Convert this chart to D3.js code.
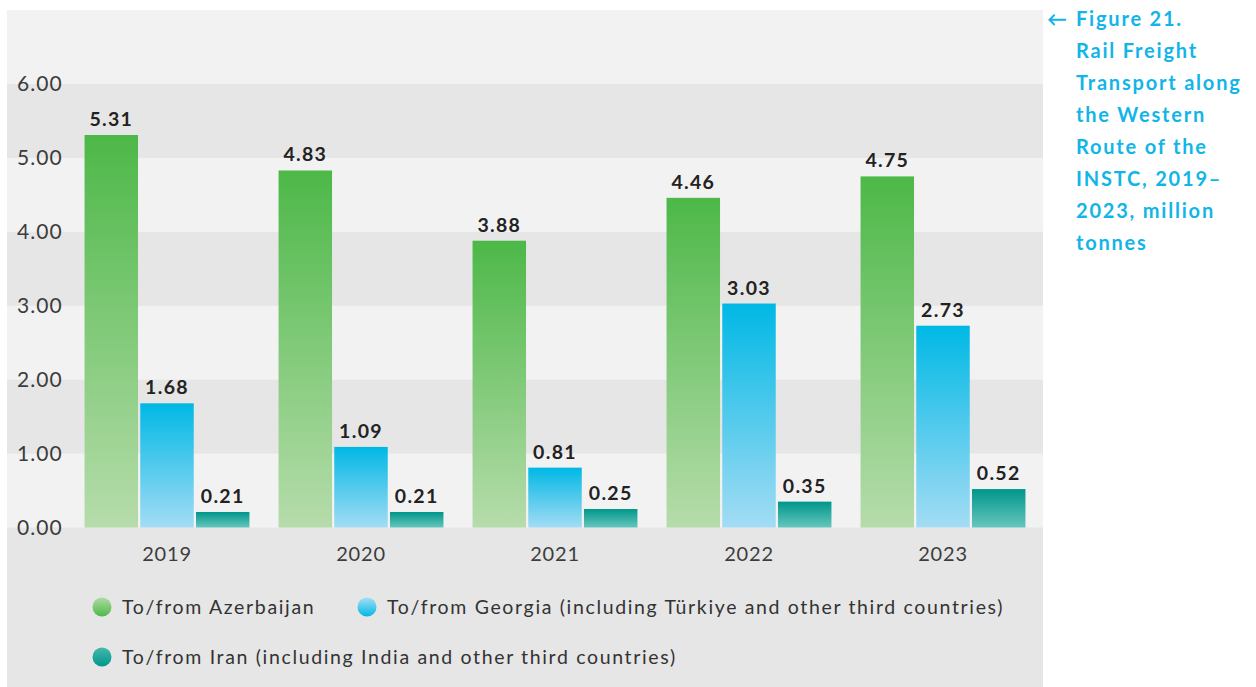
<!DOCTYPE html>
<html>
<head>
<meta charset="utf-8">
<script src="https://cdn.jsdelivr.net/npm/d3@7"></script>
<style>
  body { margin: 0; background: #fff; }
  svg text { font-family: Lato, "Open Sans", sans-serif; }
</style>
</head>
<body>
<svg id="chart" width="1256" height="687"></svg>
<script>
const years = ["2019", "2020", "2021", "2022", "2023"]
const azerbaijan = [5.31, 4.83, 3.88, 4.46, 4.75]
const georgia = [1.68, 1.09, 0.81, 3.03, 2.73]
const iran = [0.21, 0.21, 0.25, 0.35, 0.52]
const yTicks = [0, 1, 2, 3, 4, 5, 6]
const seriesNames = [
  "To/from Azerbaijan",
  "To/from Georgia (including Türkiye and other third countries)",
  "To/from Iran (including India and other third countries)"
]
const titleLines = ["Figure 21.", "Rail Freight", "Transport along", "the Western",
  "Route of the", "INSTC, 2019–", "2023, million", "tonnes"]

// colours for each series: [top, bottom] of the bar gradient
const barColors = [["#4db848", "#b6dcab"], ["#00b8e5", "#a3dcf4"], ["#00968a", "#66c6be"]]
const dotColors = [["#b0dba3", "#4db848"], ["#a6def6", "#00b8e5"], ["#45b8ae", "#00968a"]]

const svg = d3.select("#chart")
const panel = { left: 7, right: 1043, top: 10, bottom: 687 }

const y = d3.scaleLinear().domain([0, 6]).range([527.5, 84])
const x0 = d3.scaleBand().domain(years).range([70, 1040]).paddingInner(0.15).paddingOuter(0.075)
const x1 = d3.scaleBand().domain([0, 1, 2]).range([0, x0.bandwidth()]).paddingInner(0.04)

const defs = svg.append("defs")
function addGrad(id, c) {
  const g = defs.append("linearGradient").attr("id", id)
    .attr("x1", 0).attr("y1", 0).attr("x2", 0).attr("y2", 1)
  g.append("stop").attr("offset", "0%").attr("stop-color", c[0])
  g.append("stop").attr("offset", "100%").attr("stop-color", c[1])
}
barColors.forEach((c, i) => addGrad("bar" + i, c))
dotColors.forEach((c, i) => addGrad("dot" + i, c))

// panel + alternating bands
svg.append("rect").attr("x", panel.left).attr("y", panel.top)
  .attr("width", panel.right - panel.left).attr("height", panel.bottom - panel.top)
  .attr("fill", "#f2f2f2")
yTicks.slice(1).forEach(t => {
  if (t % 2 === 0) {
    svg.append("rect").attr("x", panel.left).attr("y", y(t))
      .attr("width", panel.right - panel.left).attr("height", y(t - 1) - y(t))
      .attr("fill", "#e6e6e6")
  }
})
svg.append("rect").attr("x", panel.left).attr("y", y(0))
  .attr("width", panel.right - panel.left).attr("height", panel.bottom - y(0))
  .attr("fill", "#e6e6e6")

// y axis
const yAxis = svg.append("g").attr("transform", "translate(17,0)")
  .call(d3.axisLeft(y).tickValues(yTicks).tickFormat(d3.format(".2f")).tickSize(0).tickPadding(0))
yAxis.select(".domain").remove()
yAxis.selectAll("text").attr("text-anchor", "start").attr("x", 0)
  .attr("font-size", 21).attr("fill", "#3c3c3c").attr("letter-spacing", "1.1px")
  .style("font-family", "Lato, sans-serif")

// bars
const series = [azerbaijan, georgia, iran]
const groups = svg.append("g").selectAll("g").data(years).join("g")
  .attr("transform", d => `translate(${x0(d)},0)`)

groups.each(function (yr, i) {
  const g = d3.select(this)
  series.forEach((s, k) => {
    const v = s[i]
    g.append("rect").attr("x", x1(k)).attr("y", y(v))
      .attr("width", x1.bandwidth()).attr("height", y(0) - y(v))
      .attr("fill", `url(#bar${k})`)
    g.append("text").attr("x", x1(k) + x1.bandwidth() / 2).attr("y", y(v) - 9)
      .attr("text-anchor", "middle").attr("font-size", 19.5).attr("font-weight", 700)
      .attr("letter-spacing", "1.3px").attr("fill", "#222")
      .text(v.toFixed(2))
  })
})

// x axis labels
const xAxis = svg.append("g").attr("transform", `translate(0,${y(0)})`)
  .call(d3.axisBottom(x0).tickSize(0).tickPadding(0))
xAxis.select(".domain").remove()
xAxis.selectAll("text").attr("y", 33).attr("dy", null)
  .attr("font-size", 20).attr("fill", "#3c3c3c").attr("letter-spacing", "0.8px")
  .style("font-family", "Lato, sans-serif")

// legend
const legendPos = [[102, 607], [367, 607], [102, 657]]
seriesNames.forEach((name, k) => {
  const [lx, ly] = legendPos[k]
  svg.append("circle").attr("cx", lx).attr("cy", ly).attr("r", 9.5)
    .attr("fill", `url(#dot${k})`)
  svg.append("text").attr("x", lx + 20).attr("y", ly + 7)
    .attr("font-size", 19.5).attr("fill", "#333").attr("letter-spacing", "1.65px")
    .text(name)
})

// title on the right
const title = svg.append("g")
title.append("text").attr("x", 1047).attr("y", 26).attr("font-size", 20)
  .attr("font-weight", 700).attr("fill", "#12b5e8").text("←")
titleLines.forEach((line, i) => {
  title.append("text").attr("x", 1076).attr("y", 26 + i * 32)
    .attr("font-size", 20).attr("font-weight", 700).attr("fill", "#12b5e8")
    .attr("letter-spacing", "1.8px")
    .text(line)
})
</script>
</body>
</html>
